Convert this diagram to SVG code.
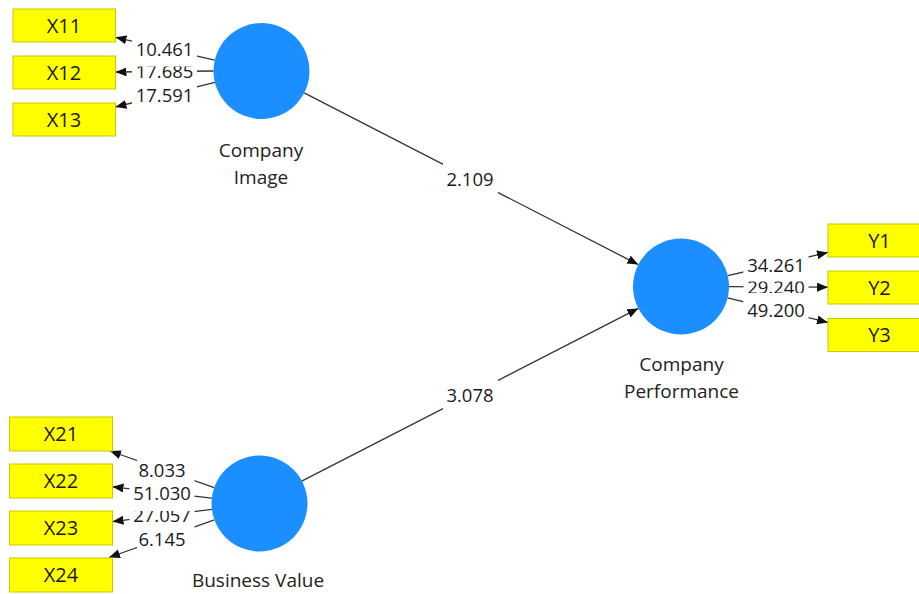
<svg xmlns="http://www.w3.org/2000/svg" width="919" height="594" viewBox="0 0 919 594">
  <style>
    .ind rect { fill: #FFFF00; stroke: #C8C800; stroke-width: 1; }
    .ind text { font-family: "Open Sans", "Liberation Sans", sans-serif; font-size: 20px; fill: #1a1a1a; text-anchor: middle; }
    .lv circle { fill: #1B8FFF; }
    .lv text { font-family: "Open Sans", "Liberation Sans", sans-serif; font-size: 19px; fill: #222; text-anchor: middle; }
    .edge { stroke: #333; stroke-width: 1.3; fill: none; marker-end: url(#arrow); }
    .lbl rect { fill: #fff; }
    .lbl text { font-family: "Open Sans", "Liberation Sans", sans-serif; font-size: 18.5px; fill: #1a1a1a; text-anchor: middle; }
  </style>
  <defs>
    <marker id="arrow" markerUnits="userSpaceOnUse" markerWidth="12" markerHeight="10" refX="11" refY="4.5" orient="auto">
      <path d="M0,0 L11,4.5 L0,9 z" fill="#111"/>
    </marker>
  </defs>
  <rect x="0" y="0" width="919" height="594" fill="#fff"/>

  <!-- connectors: outer loadings and inner paths -->
  <g id="connectors">
    <line class="edge" x1="214.7" y1="60.2" x2="115.5" y2="37.3"/>
    <line class="edge" x1="213.5" y1="71" x2="115.5" y2="72"/>
    <line class="edge" x1="214.9" y1="82.4" x2="115.5" y2="107"/>
    <line class="edge" x1="727.8" y1="275.7" x2="828" y2="252.4"/>
    <line class="edge" x1="729" y1="286.7" x2="828" y2="287.2"/>
    <line class="edge" x1="727.6" y1="297.9" x2="828" y2="322.4"/>
    <line class="edge" x1="214.2" y1="487.6" x2="110" y2="451"/>
    <line class="edge" x1="211.8" y1="498.1" x2="112.5" y2="486.8"/>
    <line class="edge" x1="211.9" y1="509.4" x2="112.5" y2="521.6"/>
    <line class="edge" x1="214.3" y1="519.8" x2="109" y2="557.5"/>
    <line class="edge" x1="304.2" y1="92.9" x2="638.3" y2="264.6"/>
    <line class="edge" x1="301.7" y1="481.1" x2="638.3" y2="308.4"/>

    <!-- coefficient labels; inner ones first so outer backgrounds overlap them -->
    <g class="lbl">
      <rect x="132" y="55" width="65" height="33"/><text x="164.5" y="78">17.685</text>
      <rect x="132" y="32.5" width="65" height="34"/><text x="164.5" y="55.5">10.461</text>
      <rect x="132" y="78.5" width="65" height="33"/><text x="164.5" y="101.5">17.591</text>

      <rect x="743.5" y="270.5" width="65" height="33"/><text x="776" y="293.5">29.240</text>
      <rect x="743.5" y="248.5" width="65" height="33"/><text x="776" y="271.5">34.261</text>
      <rect x="743.5" y="293" width="65" height="33"/><text x="776" y="316.5">49.200</text>

      <rect x="129.5" y="499" width="65" height="33"/><text x="162" y="522">27.057</text>
      <rect x="137" y="453.5" width="50" height="33"/><text x="162" y="476.5">8.033</text>
      <rect x="129.5" y="477" width="65" height="34"/><text x="162" y="500">51.030</text>
      <rect x="137" y="522.5" width="50" height="33"/><text x="162" y="545.5">6.145</text>

      <rect x="443" y="162.5" width="55" height="33"/><text x="470" y="185.5">2.109</text>
      <rect x="443" y="379" width="55" height="33"/><text x="470" y="402">3.078</text>
    </g>
  </g>

  <!-- latent variables -->
  <g id="company-image" class="lv">
    <circle cx="261.5" cy="71" r="48"/>
    <text x="261" y="157">Company</text>
    <text x="261" y="183.5">Image</text>
  </g>
  <g id="company-performance" class="lv">
    <circle cx="681" cy="286.5" r="48"/>
    <text x="681.5" y="371">Company</text>
    <text x="681.5" y="398">Performance</text>
  </g>
  <g id="business-value" class="lv">
    <circle cx="259.5" cy="503.5" r="48"/>
    <text x="258" y="587">Business Value</text>
  </g>

  <!-- indicators -->
  <g id="X11" class="ind"><rect x="13" y="9" width="102.5" height="33"/><text x="64" y="32.5">X11</text></g>
  <g id="X12" class="ind"><rect x="13" y="56" width="102.5" height="33"/><text x="64" y="79.5">X12</text></g>
  <g id="X13" class="ind"><rect x="13" y="103" width="102.5" height="33"/><text x="64" y="126.5">X13</text></g>
  <g id="X21" class="ind"><rect x="9.5" y="417" width="103" height="34"/><text x="61" y="441">X21</text></g>
  <g id="X22" class="ind"><rect x="9.5" y="464" width="103" height="34"/><text x="61" y="488">X22</text></g>
  <g id="X23" class="ind"><rect x="9.5" y="511" width="103" height="34"/><text x="61" y="535">X23</text></g>
  <g id="X24" class="ind"><rect x="9.5" y="558" width="103" height="34"/><text x="61" y="582">X24</text></g>
  <g id="Y1" class="ind"><rect x="828" y="224" width="103" height="33"/><text x="879.5" y="247.5">Y1</text></g>
  <g id="Y2" class="ind"><rect x="828" y="271" width="103" height="33"/><text x="879.5" y="294.5">Y2</text></g>
  <g id="Y3" class="ind"><rect x="828" y="318.5" width="103" height="33"/><text x="879.5" y="342">Y3</text></g>
</svg>
